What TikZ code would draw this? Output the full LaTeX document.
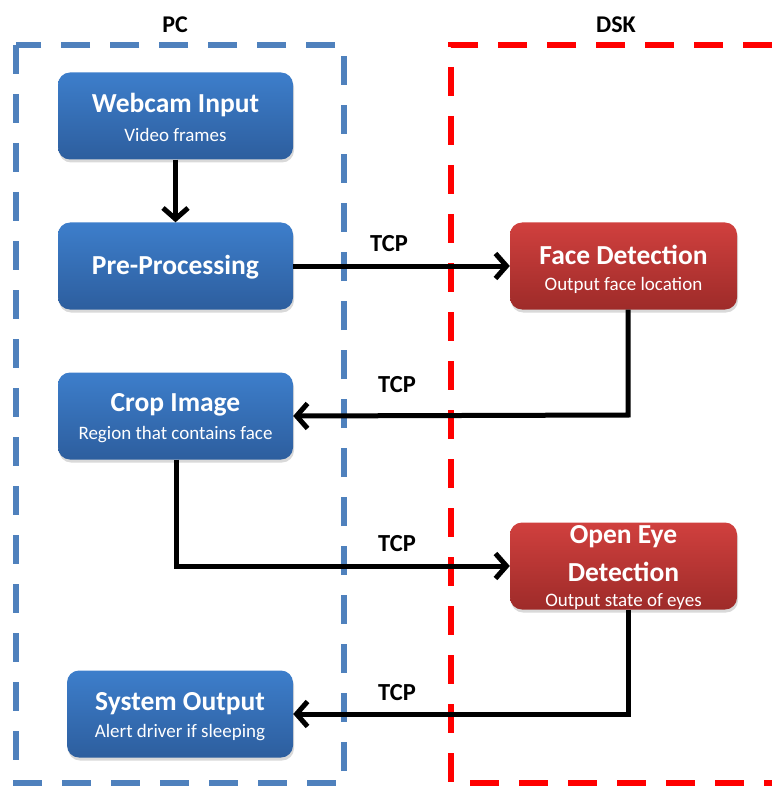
\documentclass[tikz,border=0pt]{standalone}
\usepackage{fontspec}
\setmainfont{Carlito}
\usetikzlibrary{arrows.meta,shadows}
\definecolor{pcblue}{HTML}{4F81BD}
\definecolor{boxbluetop}{HTML}{3D7ECB}
\definecolor{boxbluebot}{HTML}{2D5E9E}
\definecolor{boxredtop}{HTML}{D0403E}
\definecolor{boxredbot}{HTML}{9E2B29}
\tikzset{
  pcbox/.style={draw=pcblue,line width=6pt,dash pattern=on 29pt off 20pt},
  dskbox/.style={draw=red,line width=6pt,dash pattern=on 29pt off 20pt},
  stage/.style={rounded corners=12pt,minimum width=235pt,minimum height=87pt,
    inner sep=0pt,align=center,text=white,
    drop shadow={shadow xshift=1pt,shadow yshift=-3pt,opacity=0.3}},
  bluestage/.style={stage,top color=boxbluetop,bottom color=boxbluebot},
  redstage/.style={stage,minimum width=227pt,top color=boxredtop,bottom color=boxredbot},
  ttl/.style={font=\fontsize{27.5}{32}\selectfont\bfseries,inner sep=0pt},
  sub/.style={font=\fontsize{19}{22}\selectfont,inner sep=0pt},
  flow/.style={line width=5pt,-{Straight Barb[length=11pt,width=25pt,line width=5pt]}},
  tcp/.style={font=\fontsize{24.5}{28}\selectfont\bfseries,inner sep=0pt},
  side/.style={font=\fontsize{24}{28}\selectfont\bfseries,inner sep=0pt}
}
\begin{document}
\begin{tikzpicture}[x=1pt,y=-1pt]
\useasboundingbox (0,0) rectangle (772,786);

% host-side and DSK-side frames
\draw[pcbox] (16,45) rectangle (344,783);
\draw[dskbox] (772,45) -- (451,45) -- (451,783) -- (772,783);
\node[side] (pc) at (175,25) {PC};
\node[side] (dsk) at (616,25) {DSK};

% processing stages
\node[bluestage] (webcam) at (175.5,116) {};
\node[ttl,text=white] (webcamT) at (175.5,105) {Webcam Input};
\node[sub,text=white] (webcamS) at (175.5,135) {Video frames};

\node[bluestage] (pre) at (175.5,266) {};
\node[ttl,text=white] (preT) at (175.5,267) {Pre-Processing};

\node[bluestage] (crop) at (175.5,416) {};
\node[ttl,text=white] (cropT) at (175.5,405) {Crop Image};
\node[sub,text=white] (cropS) at (175.5,435) {Region that contains face};

\node[bluestage,minimum width=226pt] (out) at (180,714) {};
\node[ttl,text=white] (outT) at (180,704) {System Output};
\node[sub,text=white] (outS) at (180,733) {Alert driver if sleeping};

\node[redstage] (face) at (623.5,266) {};
\node[ttl,text=white] (faceT) at (623.5,255) {Face Detection};
\node[sub,text=white] (faceS) at (623.5,285) {Output face location};

\node[redstage] (eye) at (623.5,566) {};
\node[ttl,text=white] (eyeT1) at (623.5,537) {Open Eye};
\node[ttl,text=white] (eyeT2) at (623.5,572) {Detection};
\node[sub,text=white] (eyeS) at (623.5,602) {Output state of eyes};

% data flow
\coordinate (c1) at (628,415);
\coordinate (c2) at (176,566);
\coordinate (c3) at (628,714);
\draw[flow] (webcam.south) -- (pre.north);
\draw[flow] (pre.east) -- (face.west);
\draw[flow] (face.south -| c1) -- (c1) -- (crop.east);
\draw[flow] (crop.south -| c2) -- (c2) -- (eye.west);
\draw[flow] (eye.south -| c3) -- (c3) -- (out.east);

\node[tcp] (t1) at (389,244) {TCP};
\node[tcp] (t2) at (397,385) {TCP};
\node[tcp] (t3) at (397,544) {TCP};
\node[tcp] (t4) at (397,693) {TCP};
\end{tikzpicture}
\end{document}
